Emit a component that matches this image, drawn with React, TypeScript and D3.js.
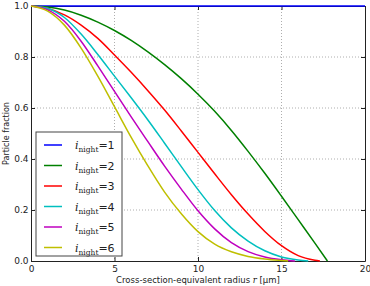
import { useEffect, useRef } from "react";
import * as d3 from "d3";

// Radius grid (µm) and particle fraction per i_night
const RADIUS = [0, 1, 2, 3, 4, 5, 6, 7, 8, 9, 10, 11, 12, 13, 14, 15, 16, 17, 18, 19, 20];

const FRAC_1 = [1, 1, 1, 1, 1, 1, 1, 1, 1, 1, 1, 1, 1, 1, 1, 1, 1, 1, 1, 1, 1];
const FRAC_2 = [1, 0.996, 0.984, 0.964, 0.937, 0.904, 0.865, 0.82, 0.77, 0.715, 0.654, 0.587, 0.512, 0.43, 0.344, 0.254, 0.162, 0.07];
const FRAC_3 = [1, 0.99, 0.965, 0.925, 0.873, 0.808, 0.74, 0.668, 0.592, 0.51, 0.426, 0.342, 0.26, 0.184, 0.116, 0.06, 0.021, 0.003];
const FRAC_4 = [1, 0.99, 0.955, 0.89, 0.81, 0.725, 0.64, 0.553, 0.462, 0.37, 0.28, 0.198, 0.13, 0.078, 0.04, 0.016, 0.004];
const FRAC_5 = [1, 0.985, 0.94, 0.862, 0.765, 0.665, 0.565, 0.468, 0.372, 0.282, 0.197, 0.126, 0.072, 0.037, 0.016, 0.005];
const FRAC_6 = [1, 0.98, 0.925, 0.835, 0.725, 0.605, 0.485, 0.373, 0.27, 0.185, 0.115, 0.066, 0.036, 0.018, 0.008, 0.002];

// radius where each curve reaches zero (blue never does)
const ZERO_AT = [null, 17.75, 17.3, 16.6, 15.8, 15.4];

const X_TICKS = [0, 5, 10, 15, 20];
const Y_TICKS = [0, 0.2, 0.4, 0.6, 0.8, 1.0];

const SERIES = [
  { n: "1", values: FRAC_1, color: "#0000ff" },
  { n: "2", values: FRAC_2, color: "#008000" },
  { n: "3", values: FRAC_3, color: "#ff0000" },
  { n: "4", values: FRAC_4, color: "#00bfbf" },
  { n: "5", values: FRAC_5, color: "#bf00bf" },
  { n: "6", values: FRAC_6, color: "#bfbf00" },
];

export default function App() {
  const svgRef = useRef<SVGSVGElement>(null);

  useEffect(() => {
    const width = 370;
    const height = 286;
    const margin = { top: 6, right: 5, bottom: 25, left: 31 };
    const innerW = width - margin.left - margin.right;
    const innerH = height - margin.top - margin.bottom;

    const svg = d3.select(svgRef.current);
    svg.selectAll("*").remove();

    const g = svg.append("g")
      .attr("transform", `translate(${margin.left},${margin.top})`);

    const x = d3.scaleLinear().domain([0, 20]).range([0, innerW]);
    const y = d3.scaleLinear().domain([0, 1]).range([innerH, 0]);

    // ----- grid -----
    const grid = g.append("g")
      .attr("stroke", "#999")
      .attr("stroke-width", 0.8)
      .attr("stroke-dasharray", "1,2");
    X_TICKS.slice(1, -1).forEach((t) => {
      grid.append("line")
        .attr("x1", x(t)).attr("x2", x(t))
        .attr("y1", 0).attr("y2", innerH);
    });
    Y_TICKS.slice(1, -1).forEach((t) => {
      grid.append("line")
        .attr("x1", 0).attr("x2", innerW)
        .attr("y1", y(t)).attr("y2", y(t));
    });

    // ----- axes (classic inward ticks on all sides) -----
    const tickFmtY = d3.format(".1f");
    const axB = g.append("g").attr("transform", `translate(0,${innerH})`)
      .call(d3.axisBottom(x).tickValues(X_TICKS).tickSizeInner(-4).tickSizeOuter(0).tickPadding(5));
    const axT = g.append("g")
      .call(d3.axisTop(x).tickValues(X_TICKS).tickSizeInner(-4).tickSizeOuter(0).tickFormat(() => ""));
    const axL = g.append("g")
      .call(d3.axisLeft(y).tickValues(Y_TICKS).tickFormat((d) => tickFmtY(d as number)).tickSizeInner(-4).tickSizeOuter(0).tickPadding(2.5));
    const axR = g.append("g").attr("transform", `translate(${innerW},0)`)
      .call(d3.axisRight(y).tickValues(Y_TICKS).tickSizeInner(-4).tickSizeOuter(0).tickFormat(() => ""));

    [axB, axT, axL, axR].forEach((a) => {
      a.select(".domain").attr("stroke", "#222").attr("stroke-width", 1);
      a.selectAll(".tick line").attr("stroke", "#222");
      a.selectAll("text")
        .attr("font-family", "DejaVu Sans")
        .attr("font-size", 9)
        .attr("fill", "#222");
    });

    // ----- lines (drawn over the frame, like the original) -----
    const line = d3.line<[number, number]>()
      .x((d) => x(d[0]))
      .y((d) => y(d[1]))
      .curve(d3.curveMonotoneX);

    SERIES.forEach((s, i) => {
      const pts: [number, number][] = s.values.map((v, j) => [RADIUS[j], v]);
      const z = ZERO_AT[i];
      if (z !== null) pts.push([z, 0]);
      g.append("path")
        .datum(pts)
        .attr("fill", "none")
        .attr("stroke", s.color)
        .attr("stroke-width", 1.5)
        .attr("d", line);
    });

    // axis labels
    const xl = svg.append("text")
      .attr("x", margin.left + innerW / 2)
      .attr("y", 283)
      .attr("text-anchor", "middle")
      .attr("font-family", "DejaVu Sans")
      .attr("font-size", 8.5)
      .attr("fill", "#222");
    xl.append("tspan").text("Cross-section-equivalent radius ");
    xl.append("tspan").attr("font-family", "DejaVu Serif").attr("font-style", "italic").text("r");
    xl.append("tspan").text(" [µm]");

    svg.append("text")
      .attr("transform", `translate(9,${margin.top + innerH / 2}) rotate(-90)`)
      .attr("text-anchor", "middle")
      .attr("font-family", "DejaVu Sans")
      .attr("font-size", 8)
      .attr("fill", "#222")
      .text("Particle fraction");

    // ----- legend -----
    const legend = g.append("g").attr("transform", `translate(5,${126})`);
    legend.append("rect")
      .attr("width", 86).attr("height", 124)
      .attr("fill", "white")
      .attr("stroke", "#444")
      .attr("stroke-width", 1);
    SERIES.forEach((s, i) => {
      const row = legend.append("g").attr("transform", `translate(0,${13 + i * 20.5})`);
      row.append("line")
        .attr("x1", 8).attr("x2", 26)
        .attr("y1", 0).attr("y2", 0)
        .attr("stroke", s.color)
        .attr("stroke-width", 1.5);
      const t = row.append("text")
        .attr("x", 39).attr("y", 4)
        .attr("fill", "#222");
      t.append("tspan")
        .attr("font-family", "DejaVu Serif")
        .attr("font-style", "italic")
        .attr("font-size", 11)
        .text("i");
      t.append("tspan")
        .attr("font-family", "DejaVu Serif")
        .attr("font-size", 7.5)
        .attr("dy", 3)
        .text("night");
      t.append("tspan")
        .attr("font-family", "DejaVu Sans")
        .attr("font-size", 11)
        .attr("dy", -3)
        .text(`=${s.n}`);
    });
  }, []);

  return (
    <svg
      ref={svgRef}
      width={370}
      height={286}
      style={{ position: "absolute", left: 0, top: 0, background: "white" }}
    ></svg>
  );
}
